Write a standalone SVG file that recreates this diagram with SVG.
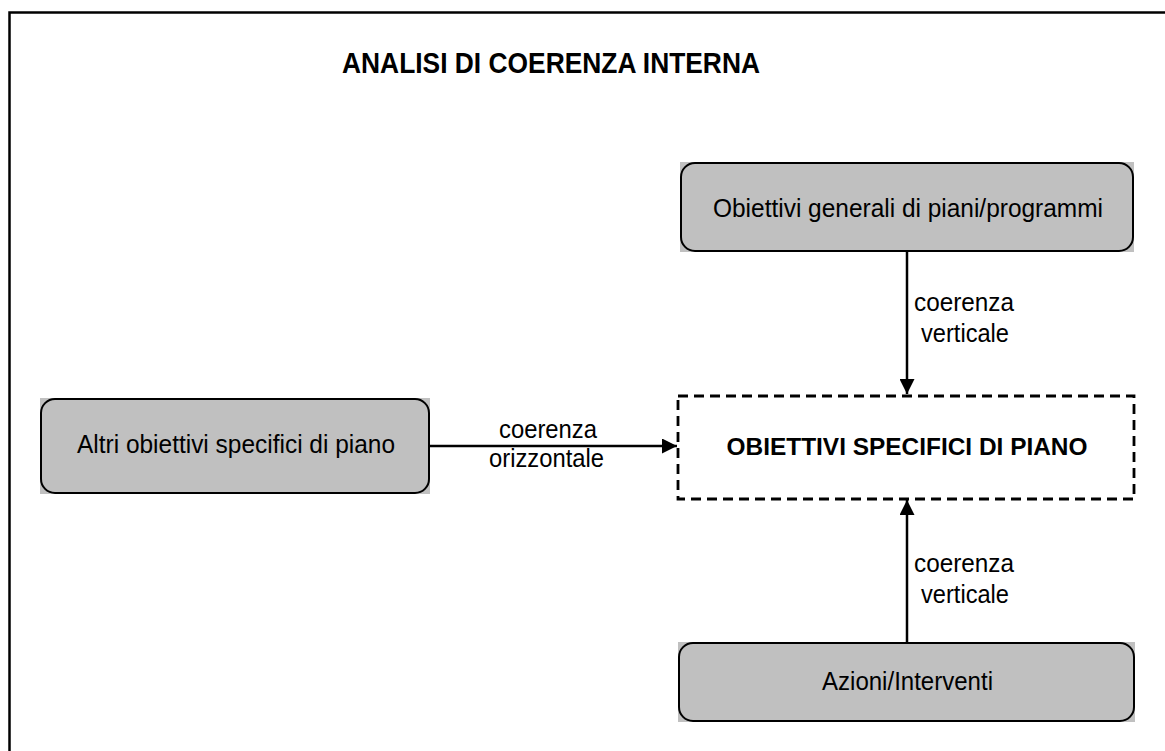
<svg xmlns="http://www.w3.org/2000/svg" width="1165" height="751" viewBox="0 0 1165 751">
<style>
.t{font-family:"Liberation Sans",Arial,sans-serif;font-size:26.5px;fill:#000}
.b{font-weight:bold}
.fill{fill:#c0c0c0;stroke:none}
.edge{fill:none;stroke:#000;stroke-width:2}
.conn{stroke:#000;stroke-width:2.5;fill:none}
</style>
<defs>
<marker id="ah" viewBox="0 0 10 10" refX="10" refY="5" markerWidth="6" markerHeight="6" markerUnits="strokeWidth" orient="auto">
<path d="M0,0 L10,5 L0,10 Z" fill="#000"/>
</marker>
</defs>
<rect width="1165" height="751" fill="#fff"/>
<rect x="9.5" y="12.5" width="1200" height="800" fill="none" stroke="#000" stroke-width="2.5"/>
<text class="t b" x="342" y="73" style="font-size:29px" textLength="418" lengthAdjust="spacingAndGlyphs">ANALISI DI COERENZA INTERNA</text>

<g id="node-generali">
<rect class="fill" x="680" y="162" width="454" height="90"/>
<rect class="edge" x="681" y="163" width="452" height="88" rx="14"/>
<text class="t" x="908" y="217" text-anchor="middle" textLength="390" lengthAdjust="spacingAndGlyphs">Obiettivi generali di piani/programmi</text>
</g>

<g id="node-altri">
<rect class="fill" x="40" y="398" width="390" height="96"/>
<rect class="edge" x="41" y="399" width="388" height="94" rx="14"/>
<text class="t" x="236" y="453" text-anchor="middle" textLength="318" lengthAdjust="spacingAndGlyphs">Altri obiettivi specifici di piano</text>
</g>

<g id="node-specifici">
<rect x="678" y="396" width="456" height="103" fill="#fff" stroke="#000" stroke-width="2.8" stroke-dasharray="10,6"/>
<text class="t b" x="907" y="455" text-anchor="middle" style="font-size:24px" textLength="361" lengthAdjust="spacingAndGlyphs">OBIETTIVI SPECIFICI DI PIANO</text>
</g>

<g id="node-azioni">
<rect class="fill" x="678" y="642" width="457" height="80"/>
<rect class="edge" x="679" y="643" width="455" height="78" rx="14"/>
<text class="t" x="907.5" y="690" text-anchor="middle" textLength="171" lengthAdjust="spacingAndGlyphs">Azioni/Interventi</text>
</g>

<g id="connectors">
<line class="conn" x1="907" y1="252" x2="907" y2="394" marker-end="url(#ah)"/>
<line class="conn" x1="430" y1="446" x2="677" y2="446" marker-end="url(#ah)"/>
<line class="conn" x1="907" y1="642" x2="907" y2="500" marker-end="url(#ah)"/>
<text class="t" x="964" y="311" text-anchor="middle" textLength="100" lengthAdjust="spacingAndGlyphs">coerenza</text>
<text class="t" x="965" y="342" text-anchor="middle" textLength="88" lengthAdjust="spacingAndGlyphs">verticale</text>
<text class="t" x="548" y="438" text-anchor="middle" textLength="98" lengthAdjust="spacingAndGlyphs">coerenza</text>
<text class="t" x="546.5" y="467" text-anchor="middle" textLength="115" lengthAdjust="spacingAndGlyphs">orizzontale</text>
<text class="t" x="964" y="572" text-anchor="middle" textLength="100" lengthAdjust="spacingAndGlyphs">coerenza</text>
<text class="t" x="965" y="603" text-anchor="middle" textLength="88" lengthAdjust="spacingAndGlyphs">verticale</text>
</g>
</svg>
